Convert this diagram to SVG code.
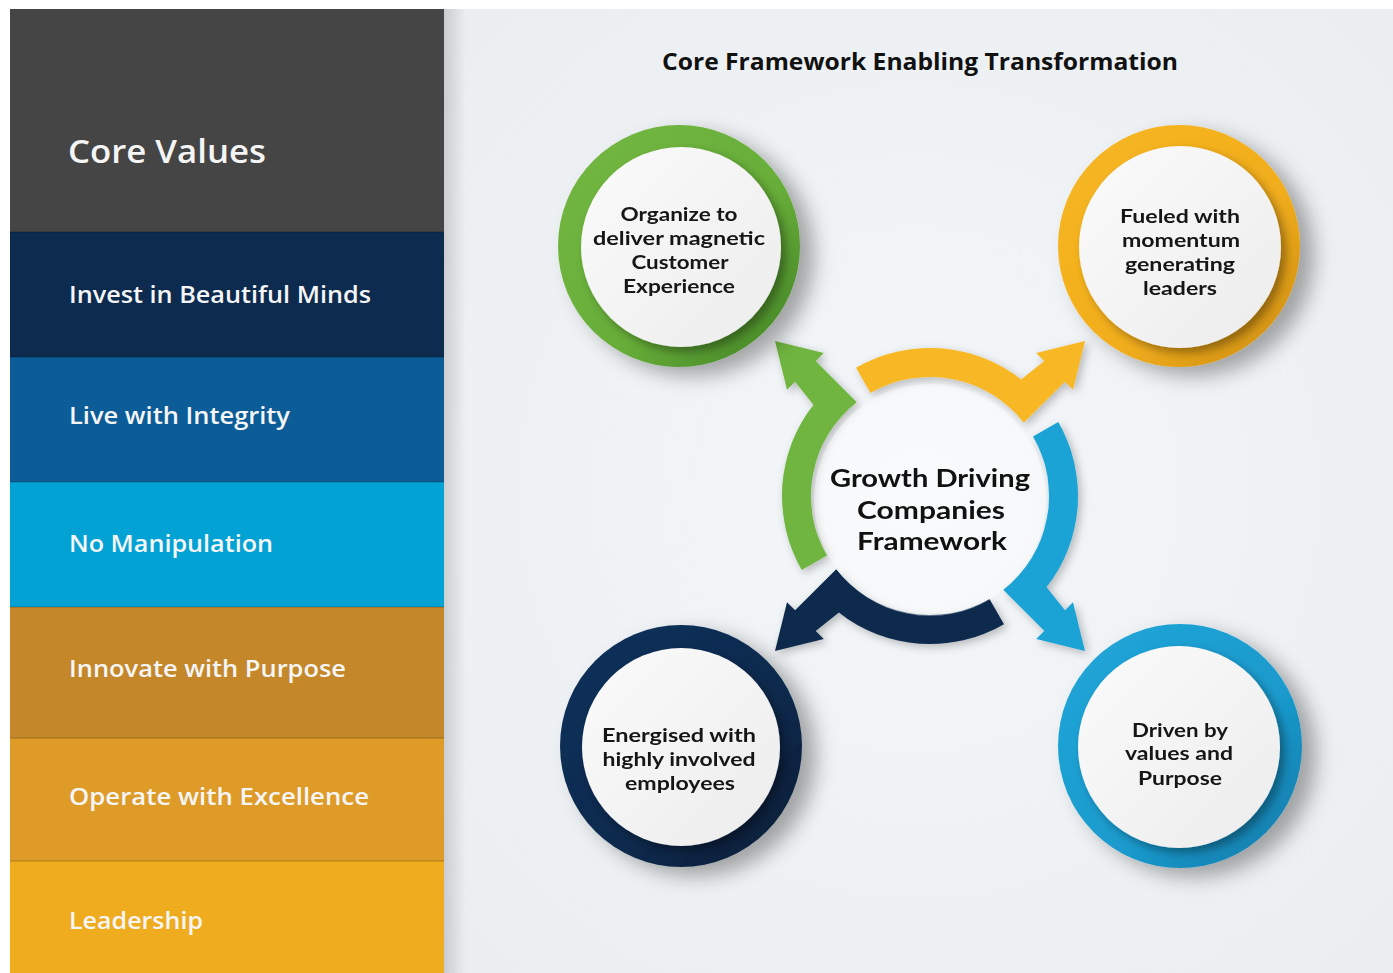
<svg xmlns="http://www.w3.org/2000/svg" width="1393" height="973" viewBox="0 0 1393 973">
<defs>
<style>
.lt{font-family:"Open Sans","Liberation Sans",sans-serif;font-weight:600;fill:#f5f5f5;font-size:24px}
.hd{font-size:32px}
.ct{font-family:Lato,"Open Sans","Liberation Sans",sans-serif;font-weight:700;fill:#161616;font-size:19.5px;text-anchor:middle}
.cc{font-family:Lato,"Open Sans","Liberation Sans",sans-serif;font-weight:700;fill:#111;font-size:25px;text-anchor:middle}
.ttl{font-family:"Open Sans","Liberation Sans",sans-serif;font-weight:700;fill:#111;font-size:23px}
.disc{fill:url(#discG);filter:url(#discSh)}
</style>
<radialGradient id="bgG" cx="0.5" cy="0.5" r="0.75">
<stop offset="0" stop-color="#f4f7f9"/>
<stop offset="1" stop-color="#eaedf0"/>
</radialGradient>
<linearGradient id="edgeSh" x1="0" y1="0" x2="1" y2="0">
<stop offset="0" stop-color="#000" stop-opacity="0.14"/>
<stop offset="1" stop-color="#000" stop-opacity="0"/>
</linearGradient>
<linearGradient id="discG" x1="0" y1="0" x2="1" y2="1">
<stop offset="0" stop-color="#fbfbfb"/>
<stop offset="1" stop-color="#ececec"/>
</linearGradient>
<linearGradient id="gGreen" x1="0" y1="0" x2="1" y2="1">
<stop offset="0" stop-color="#74b843"/>
<stop offset="0.6" stop-color="#66ad38"/>
<stop offset="1" stop-color="#3f7f24"/>
</linearGradient>
<linearGradient id="gYellow" x1="0" y1="0" x2="1" y2="1">
<stop offset="0" stop-color="#f7b722"/>
<stop offset="0.6" stop-color="#f1ad1c"/>
<stop offset="1" stop-color="#c98a12"/>
</linearGradient>
<linearGradient id="gNavy" x1="0" y1="0" x2="1" y2="1">
<stop offset="0" stop-color="#11305a"/>
<stop offset="0.6" stop-color="#0c2a4d"/>
<stop offset="1" stop-color="#061a33"/>
</linearGradient>
<linearGradient id="gBlue" x1="0" y1="0" x2="1" y2="1">
<stop offset="0" stop-color="#22a6d8"/>
<stop offset="0.6" stop-color="#1a9acd"/>
<stop offset="1" stop-color="#0f78a6"/>
</linearGradient>
<filter id="ringSh" x="-30%" y="-30%" width="170%" height="170%">
<feDropShadow dx="14" dy="9" stdDeviation="10" flood-color="#000" flood-opacity="0.33"/>
</filter>
<filter id="discSh" x="-20%" y="-20%" width="150%" height="150%">
<feDropShadow dx="5" dy="5" stdDeviation="5" flood-color="#000" flood-opacity="0.35"/>
</filter>
<filter id="arrSh" x="-30%" y="-30%" width="170%" height="170%">
<feDropShadow dx="3" dy="3" stdDeviation="4" flood-color="#000" flood-opacity="0.25"/>
</filter>
<path id="arrow" d="M-74,-128.2 A148,148 0 0 1 91.1,-116.6 L114.3,-134.9 L106.2,-143 L155,-155 L143,-106.2 L134.9,-114.3 L93.8,-73.3 A119,119 0 0 0 -59.5,-103.1 Z"/>
</defs>

<rect x="0" y="0" width="1393" height="973" fill="#ffffff"/>
<rect x="444" y="9" width="949" height="964" fill="url(#bgG)"/>
<rect x="444" y="9" width="22" height="964" fill="url(#edgeSh)"/>

<g id="core-values-panel">
<g id="band-core-values"><rect x="10" y="9" width="434" height="223" fill="#454545"/><text class="lt hd" x="68" y="163" textLength="198" lengthAdjust="spacingAndGlyphs">Core Values</text></g>
<g id="band-invest"><rect x="10" y="232" width="434" height="125" fill="#0c2b4f"/><text class="lt" x="69" y="303" textLength="302" lengthAdjust="spacingAndGlyphs">Invest in Beautiful Minds</text></g>
<g id="band-integrity"><rect x="10" y="357" width="434" height="125" fill="#0b5c97"/><text class="lt" x="69" y="424" textLength="221" lengthAdjust="spacingAndGlyphs">Live with Integrity</text></g>
<g id="band-manipulation"><rect x="10" y="482" width="434" height="125" fill="#03a2d4"/><text class="lt" x="69" y="552" textLength="204" lengthAdjust="spacingAndGlyphs">No Manipulation</text></g>
<g id="band-innovate"><rect x="10" y="607" width="434" height="131" fill="#c4882b"/><text class="lt" x="69" y="677" textLength="277" lengthAdjust="spacingAndGlyphs">Innovate with Purpose</text></g>
<g id="band-operate"><rect x="10" y="738" width="434" height="123" fill="#de9b27"/><text class="lt" x="69" y="805" textLength="300" lengthAdjust="spacingAndGlyphs">Operate with Excellence</text></g>
<g id="band-leadership"><rect x="10" y="861" width="434" height="112" fill="#efac1f"/><text class="lt" x="69" y="929" textLength="134" lengthAdjust="spacingAndGlyphs">Leadership</text></g>
<rect x="10" y="231" width="434" height="2" fill="#000" opacity="0.15"/>
<rect x="10" y="356" width="434" height="2" fill="#000" opacity="0.15"/>
<rect x="10" y="481" width="434" height="2" fill="#000" opacity="0.12"/>
<rect x="10" y="606" width="434" height="2" fill="#000" opacity="0.12"/>
<rect x="10" y="737" width="434" height="2" fill="#000" opacity="0.12"/>
<rect x="10" y="860" width="434" height="2" fill="#000" opacity="0.12"/>
</g>

<g id="title"><text class="ttl" x="662" y="70" textLength="516" lengthAdjust="spacingAndGlyphs">Core Framework Enabling Transformation</text></g>

<g id="connectors" filter="url(#arrSh)">
<use href="#arrow" transform="translate(930,496)" fill="#f8b828"/>
<use href="#arrow" transform="translate(930,496) rotate(90)" fill="#1ea3d6"/>
<use href="#arrow" transform="translate(930,496) rotate(180)" fill="#0e2b4e"/>
<use href="#arrow" transform="translate(930,496) rotate(-90)" fill="#6fb540"/>
</g>

<g id="center-node">
<circle cx="930" cy="500" r="116" fill="#ffffff" opacity="0.35"/>
<text class="cc" x="930" y="487" textLength="200" lengthAdjust="spacingAndGlyphs">Growth Driving</text>
<text class="cc" x="931" y="519" textLength="148" lengthAdjust="spacingAndGlyphs">Companies</text>
<text class="cc" x="932" y="550" textLength="150" lengthAdjust="spacingAndGlyphs">Framework</text>
</g>

<g id="node-customer-experience">
<circle cx="679" cy="246" r="121" fill="url(#gGreen)" filter="url(#ringSh)"/>
<circle cx="681" cy="247" r="100" class="disc"/>
<text class="ct" x="679" y="221" textLength="117" lengthAdjust="spacingAndGlyphs">Organize to</text>
<text class="ct" x="679" y="245" textLength="172" lengthAdjust="spacingAndGlyphs">deliver magnetic</text>
<text class="ct" x="680" y="269" textLength="97" lengthAdjust="spacingAndGlyphs">Customer</text>
<text class="ct" x="679" y="293" textLength="112" lengthAdjust="spacingAndGlyphs">Experience</text>
</g>

<g id="node-leaders">
<circle cx="1179" cy="246" r="121" fill="url(#gYellow)" filter="url(#ringSh)"/>
<circle cx="1180" cy="247" r="101" class="disc"/>
<text class="ct" x="1180" y="223" textLength="120" lengthAdjust="spacingAndGlyphs">Fueled with</text>
<text class="ct" x="1181" y="247" textLength="118" lengthAdjust="spacingAndGlyphs">momentum</text>
<text class="ct" x="1180" y="271" textLength="110" lengthAdjust="spacingAndGlyphs">generating</text>
<text class="ct" x="1180" y="295" textLength="74" lengthAdjust="spacingAndGlyphs">leaders</text>
</g>

<g id="node-employees">
<circle cx="681" cy="746" r="121" fill="url(#gNavy)" filter="url(#ringSh)"/>
<circle cx="681" cy="747" r="99" class="disc"/>
<text class="ct" x="679" y="742" textLength="154" lengthAdjust="spacingAndGlyphs">Energised with</text>
<text class="ct" x="679" y="766" textLength="153" lengthAdjust="spacingAndGlyphs">highly involved</text>
<text class="ct" x="680" y="790" textLength="110" lengthAdjust="spacingAndGlyphs">employees</text>
</g>

<g id="node-values-purpose">
<circle cx="1180" cy="746" r="122" fill="url(#gBlue)" filter="url(#ringSh)"/>
<circle cx="1179" cy="747" r="101" class="disc"/>
<text class="ct" x="1180" y="737" textLength="96" lengthAdjust="spacingAndGlyphs">Driven by</text>
<text class="ct" x="1179" y="760" textLength="108" lengthAdjust="spacingAndGlyphs">values and</text>
<text class="ct" x="1180" y="785" textLength="84" lengthAdjust="spacingAndGlyphs">Purpose</text>
</g>
</svg>
